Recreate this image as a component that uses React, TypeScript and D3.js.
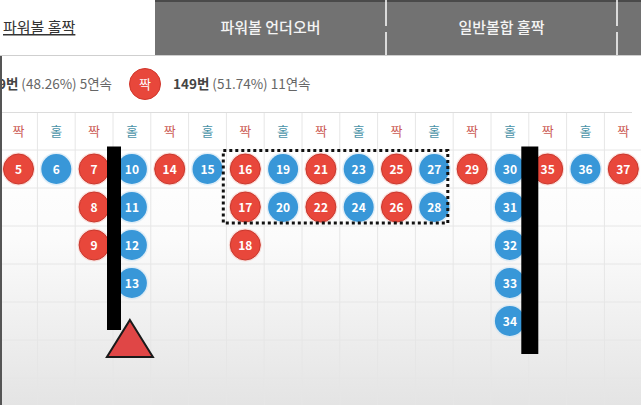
import { useEffect, useRef } from "react";
import * as d3 from "d3";

// column headers (짝 = even, 홀 = odd)
const columnLabels = ["짝", "홀", "짝", "홀", "짝", "홀", "짝", "홀", "짝", "홀", "짝", "홀", "짝", "홀", "짝", "홀", "짝"];

// ball numbers stacked in each column
const columnBalls: number[][] = [
  [5],
  [6],
  [7, 8, 9],
  [10, 11, 12, 13],
  [14],
  [15],
  [16, 17, 18],
  [19, 20],
  [21, 22],
  [23, 24],
  [25, 26],
  [27, 28],
  [29],
  [30, 31, 32, 33, 34],
  [35],
  [36],
  [37],
];

const tabs = ["파워볼 홀짝", "파워볼 언더오버", "일반볼합 홀짝", ""];
const oddStats = { count: 139, pct: "48.26%", streak: 5 };
const evenStats = { count: 149, pct: "51.74%", streak: 11 };

const W = 641;
const H = 405;
const FONT = "'Noto Sans CJK KR', 'Noto Sans', sans-serif";
const RED = "#e8473b";
const BLUE = "#3897d8";

export default function App() {
  const svgRef = useRef<SVGSVGElement>(null);

  useEffect(() => {
    if (!svgRef.current) return;
    const svg = d3.select(svgRef.current);
    svg.selectAll("*").remove();

    const x = d3.scaleLinear().domain([0, 16]).range([18.5, 623.3]);
    const y = d3.scaleLinear().domain([0, 5]).range([169, 359]);
    const colW = x(1) - x(0);
    const rowH = y(1) - y(0);

    const defs = svg.append("defs");
    const grad = defs
      .append("linearGradient")
      .attr("id", "bg")
      .attr("x1", 0)
      .attr("y1", 0)
      .attr("x2", 0)
      .attr("y2", 1);
    grad.append("stop").attr("offset", "0%").attr("stop-color", "#ffffff");
    grad.append("stop").attr("offset", "35%").attr("stop-color", "#fbfbfb");
    grad.append("stop").attr("offset", "100%").attr("stop-color", "#e4e4e4");

    svg.append("rect").attr("width", W).attr("height", H).attr("fill", "#fff");
    svg
      .append("rect")
      .attr("y", 150)
      .attr("width", W)
      .attr("height", H - 150)
      .attr("fill", "url(#bg)");

    // Grid
    const grid = svg.append("g").attr("stroke", "#e6e6e6").attr("stroke-width", 1);
    d3.range(0, 18).forEach((i) => {
      const gx = x(i) - colW / 2;
      grid.append("line").attr("x1", gx).attr("x2", gx).attr("y1", 113).attr("y2", H);
    });
    d3.range(0, 7).forEach((j) => {
      const gy = y(j) - rowH / 2;
      grid.append("line").attr("x1", 0).attr("x2", W).attr("y1", gy).attr("y2", gy);
    });

    // Tabs
    const tabEdges = [0, 155, 386, 617, W];
    svg
      .append("rect")
      .attr("x", tabEdges[1])
      .attr("width", W - tabEdges[1])
      .attr("height", 55)
      .attr("fill", "#727272");
    svg
      .append("rect")
      .attr("x", tabEdges[1])
      .attr("width", W - tabEdges[1])
      .attr("height", 2)
      .attr("fill", "#4a4a4a");
    [tabEdges[2], tabEdges[3]].forEach((sx) => {
      svg.append("line").attr("x1", sx).attr("x2", sx).attr("y1", 0).attr("y2", 26).attr("stroke", "#fff").attr("stroke-width", 1.5);
      svg.append("line").attr("x1", sx).attr("x2", sx).attr("y1", 32).attr("y2", 55).attr("stroke", "#fff").attr("stroke-width", 1.5);
    });
    svg.append("line").attr("x1", 0).attr("x2", W).attr("y1", 55.5).attr("y2", 55.5).attr("stroke", "#cfcfcf");

    svg
      .append("text")
      .attr("x", 3)
      .attr("y", 33)
      .attr("font-family", FONT)
      .attr("font-size", 15)
      .attr("fill", "#333")
      .attr("text-decoration", "underline")
      .text(tabs[0]);
    tabs.slice(1, 3).forEach((t, i) => {
      svg
        .append("text")
        .attr("x", (tabEdges[i + 1] + tabEdges[i + 2]) / 2)
        .attr("y", 33)
        .attr("text-anchor", "middle")
        .attr("font-family", FONT)
        .attr("font-size", 15)
        .attr("font-weight", 500)
        .attr("fill", "#f4f4f4")
        .text(t);
    });

    // Stats row
    const statY = 89;
    const left = svg
      .append("text")
      .attr("x", 112)
      .attr("y", statY)
      .attr("text-anchor", "end")
      .attr("font-family", FONT)
      .attr("font-size", 13.5);
    left.append("tspan").attr("font-weight", 700).attr("fill", "#444").text(`${oddStats.count}번`);
    left.append("tspan").attr("fill", "#666").text(` (${oddStats.pct}) ${oddStats.streak}연속`);

    svg.append("circle").attr("cx", 145).attr("cy", 84).attr("r", 15.5).attr("fill", RED).attr("stroke", "#d0362b");
    svg
      .append("text")
      .attr("x", 145)
      .attr("y", 89)
      .attr("text-anchor", "middle")
      .attr("font-family", FONT)
      .attr("font-size", 13)
      .attr("fill", "#fff")
      .text("짝");

    const right = svg
      .append("text")
      .attr("x", 173)
      .attr("y", statY)
      .attr("font-family", FONT)
      .attr("font-size", 13.5);
    right.append("tspan").attr("font-weight", 700).attr("fill", "#444").text(`${evenStats.count}번`);
    right.append("tspan").attr("fill", "#666").text(` (${evenStats.pct}) ${evenStats.streak}연속`);

    svg.append("line").attr("x1", 0).attr("x2", 632).attr("y1", 112.5).attr("y2", 112.5).attr("stroke", "#dcdcdc");

    // Left border
    svg.append("rect").attr("x", 0).attr("y", 56).attr("width", 2).attr("height", H - 56).attr("fill", "#555");

    // Column labels
    svg
      .append("g")
      .selectAll("text")
      .data(columnLabels)
      .join("text")
      .attr("x", (_, i) => x(i))
      .attr("y", 136)
      .attr("text-anchor", "middle")
      .attr("font-family", FONT)
      .attr("font-size", 13)
      .attr("fill", (d) => (d === "짝" ? "#cc5b55" : "#4a93a8"))
      .text((d) => d);

    // Balls
    const balls = columnBalls.flatMap((col, i) =>
      col.map((n, j) => ({ n, col: i, row: j, even: columnLabels[i] === "짝" }))
    );
    const ballG = svg
      .append("g")
      .selectAll("g")
      .data(balls)
      .join("g")
      .attr("transform", (d) => `translate(${x(d.col)},${y(d.row)})`);
    ballG
      .append("circle")
      .attr("r", 16.5)
      .attr("fill", (d) => (d.even ? "#f6c9c4" : "#cfe4f3"))
      .attr("opacity", 0.6);
    ballG
      .append("circle")
      .attr("r", 15)
      .attr("fill", (d) => (d.even ? RED : BLUE))
      .attr("stroke", (d) => (d.even ? "#c9372c" : "none"))
      .attr("stroke-width", 1);
    ballG
      .append("text")
      .attr("y", 4.5)
      .attr("text-anchor", "middle")
      .attr("font-family", FONT)
      .attr("font-size", 12)
      .attr("font-weight", 700)
      .attr("fill", "#fff")
      .text((d) => d.n);

    // Annotations: streak bars
    const bars = [
      { at: 2.5, top: 146.5, bottom: 330, w: 14 },
      { at: 13.5, top: 146.5, bottom: 354, w: 17 },
    ];
    bars.forEach((b) => {
      svg
        .append("rect")
        .attr("x", x(b.at) + 1 - b.w / 2)
        .attr("y", b.top)
        .attr("width", b.w)
        .attr("height", b.bottom - b.top)
        .attr("fill", "#000");
    });

    // Triangle under column 3
    const tx = x(3) - 2;
    svg
      .append("path")
      .attr("d", `M${tx},320 L${tx + 23},357 L${tx - 23},357 Z`)
      .attr("fill", "#e04646")
      .attr("stroke", "#1a1a1a")
      .attr("stroke-width", 2)
      .attr("stroke-linejoin", "miter");

    // Dotted box around columns 6-11, rows 0-1
    svg
      .append("rect")
      .attr("x", x(6) - 22)
      .attr("y", y(0) - 18.5)
      .attr("width", x(11) + 13.5 - (x(6) - 22))
      .attr("height", y(1) + 16 - (y(0) - 18.5))
      .attr("fill", "none")
      .attr("stroke", "#111")
      .attr("stroke-width", 3)
      .attr("stroke-dasharray", "3 3");
  }, []);

  return (
    <div style={{ position: "fixed", left: 0, top: 0 }}>
      <svg ref={svgRef} width={W} height={H} style={{ display: "block" }} />
    </div>
  );
}
